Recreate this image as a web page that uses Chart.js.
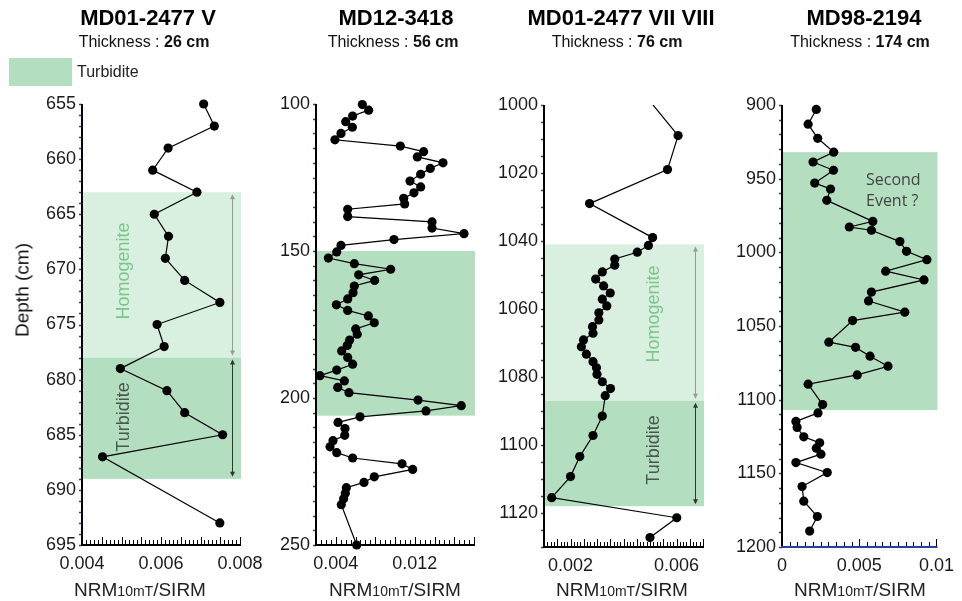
<!DOCTYPE html>
<html><head><meta charset="utf-8">
<script src="https://cdn.jsdelivr.net/npm/chart.js@4.4.0/dist/chart.umd.min.js"></script>
<style>
html,body{margin:0;padding:0;background:#fff;}
body{width:962px;height:601px;position:relative;overflow:hidden;font-family:"Liberation Sans",Arial,sans-serif;color:#111;}
canvas{position:absolute;left:0;top:0;}
.t{position:absolute;white-space:nowrap;transform:translate(-50%,-50%);line-height:1;}
.title{font-weight:bold;font-size:22px;color:#000;}
.thick{font-size:16px;color:#111;}
.xt{font-size:19px;color:#222;}
.xt span{font-size:14px;}
.rot{transform:translate(-50%,-50%) rotate(-90deg);}
.lab{font-size:18px;}
</style></head>
<body>
<canvas id="c1" width="962" height="601"></canvas>
<canvas id="c2" width="962" height="601"></canvas>
<canvas id="c3" width="962" height="601"></canvas>
<canvas id="c4" width="962" height="601"></canvas>

<div class="t title" style="left:148px;top:18px">MD01-2477 V</div>
<div class="t thick" style="left:144px;top:42px">Thickness : <b>26 cm</b></div>
<div class="t title" style="left:396px;top:18px">MD12-3418</div>
<div class="t thick" style="left:393px;top:42px">Thickness : <b>56 cm</b></div>
<div class="t title" style="left:621px;top:18px">MD01-2477 VII VIII</div>
<div class="t thick" style="left:617px;top:42px">Thickness : <b>76 cm</b></div>
<div class="t title" style="left:864px;top:18px">MD98-2194</div>
<div class="t thick" style="left:860px;top:42px">Thickness : <b>174 cm</b></div>

<div style="position:absolute;left:9px;top:58px;width:63px;height:28px;background:#b3dec0"></div>
<div class="t" style="left:77px;top:72px;transform:translate(0,-50%);font-size:16px;color:#222">Turbidite</div>

<div class="t rot" style="left:22px;top:290px;font-size:19px;color:#111">Depth (cm)</div>

<div class="t xt" style="left:140px;top:589px">NRM<span>10mT</span>/SIRM</div>
<div class="t xt" style="left:395px;top:589px">NRM<span>10mT</span>/SIRM</div>
<div class="t xt" style="left:622px;top:589px">NRM<span>10mT</span>/SIRM</div>
<div class="t xt" style="left:860px;top:589px">NRM<span>10mT</span>/SIRM</div>

<div class="t rot lab" style="left:123px;top:271px;color:#7cc68a">Homogenite</div>
<div class="t rot lab" style="left:123px;top:417px;color:#4a584c">Turbidite</div>
<div class="t rot lab" style="left:653px;top:314px;color:#7cc68a">Homogenite</div>
<div class="t rot lab" style="left:653px;top:450px;color:#4a584c">Turbidite</div>
<div class="t" style="left:866px;top:190px;transform:translate(0,-50%);font-family:'Open Sans','Noto Sans',sans-serif;font-size:16px;line-height:21px;color:#444">Second<br>Event ?</div>

<script>
// ---------- DATA ----------
// Panel 1 : MD01-2477 V
const p1Depth = [655,657,659,661,663,665,667,669,671,673,675,677,679,681,683,685,687,693];
const p1Value = [0.00708,0.00735,0.00618,0.00579,0.00691,0.00583,0.00619,0.00611,0.0066,0.00749,0.0059,0.00608,0.00497,0.00615,0.0066,0.00756,0.00452,0.00749];
const p1XTicks = [0.004,0.006,0.008];
const p1XLabels = ['0.004','0.006','0.008'];
const p1YTicks = [655,660,665,670,675,680,685,690,695];
const p1Homogenite = [663,678];
const p1Turbidite = [678,689];

// Panel 2 : MD12-3418
const p2Depth = [100.2,102.1,104.1,106,107.9,110,112.2,114.3,116.2,118,120,121.9,123.9,126.2,128.2,130.2,132.1,134,135.8,138.3,140.1,142.2,144.1,146.1,148.1,150.3,152.4,154.3,156.2,158.1,160,161.9,164.2,166.3,168.3,170.2,172.1,174.4,176.5,178.3,180.3,182.1,184,186.2,188.5,190.5,192.4,194.2,196.4,198.2,200.7,202.6,204.4,206.4,208.3,210.4,212.7,214.5,216.6,218.6,220.4,222.4,224.3,226.8,228.7,230.5,232.4,234.3,236.3,250];
const p2Value = [0.00669,0.00733,0.00571,0.00501,0.00568,0.00453,0.00392,0.01054,0.0129,0.01226,0.01486,0.01357,0.0126,0.01152,0.0126,0.01192,0.01088,0.01098,0.00521,0.00521,0.01375,0.01375,0.01699,0.0099,0.00453,0.0041,0.00325,0.00588,0.00956,0.00632,0.00794,0.00588,0.00575,0.00521,0.00406,0.00521,0.0073,0.0079,0.00602,0.00618,0.00541,0.00517,0.0046,0.00521,0.00571,0.0041,0.0024,0.00487,0.0042,0.00534,0.01233,0.01671,0.01314,0.00646,0.00423,0.00494,0.00491,0.00372,0.00342,0.0041,0.00571,0.01071,0.01179,0.0079,0.00686,0.00507,0.00497,0.0048,0.00456,0.00612];
const p2XTicks = [0.004,0.012];
const p2XLabels = ['0.004','0.012'];
const p2YTicks = [100,150,200,250];
const p2Turbidite = [150,206];

// Panel 3 : MD01-2477 VII VIII
const p3Depth = [997,1009,1019,1029,1039,1041.3,1043.3,1045.3,1047.1,1049.1,1051.2,1053.2,1055.3,1057.1,1059.1,1061.1,1063.2,1065.2,1067.1,1069.1,1071.1,1073.3,1075.5,1077.3,1079.2,1081.4,1083.4,1085.5,1091.5,1097.2,1103.4,1109.3,1115.5,1121.4,1127.2];
const p3Value = [0.0048,0.00606,0.00566,0.00272,0.0051,0.00494,0.00452,0.00367,0.00367,0.0032,0.00295,0.00325,0.0035,0.0032,0.00337,0.00307,0.00307,0.00283,0.00285,0.00249,0.00241,0.0026,0.00285,0.00298,0.003,0.0032,0.00351,0.00331,0.0032,0.00285,0.00235,0.002,0.00129,0.00601,0.005];
const p3XTicks = [0.002,0.006];
const p3XLabels = ['0.002','0.006'];
const p3YTicks = [1000,1020,1040,1060,1080,1100,1120];
const p3Homogenite = [1041,1087];
const p3Turbidite = [1087,1118];

// Panel 4 : MD98-2194
const p4Depth = [903,913,922.6,932,938.7,944.3,953,957,964.7,979,982.8,985,992.7,999.3,1005,1012.8,1018.7,1027,1033,1040.6,1046.3,1061,1064.5,1070.5,1077.3,1083.2,1089.5,1103.3,1109,1114.8,1118.9,1125.2,1129.3,1132.9,1137,1142.7,1149.5,1159,1168.9,1179.3,1189.2];
const p4Value = [0.00222,0.00169,0.00231,0.00335,0.00201,0.00333,0.00212,0.00314,0.0029,0.00588,0.00436,0.00579,0.00763,0.00806,0.00938,0.00671,0.00919,0.00579,0.0056,0.00795,0.00457,0.00303,0.00476,0.0057,0.00686,0.00487,0.00169,0.00263,0.00233,0.0009,0.00098,0.00141,0.00244,0.00222,0.00252,0.0009,0.00293,0.0013,0.00141,0.00229,0.00179];
const p4XTicks = [0,0.005,0.01];
const p4XLabels = ['0','0.005','0.01'];
const p4YTicks = [900,950,1000,1050,1100,1150,1200];
const p4Turbidite = [932,1107];

// ---------- STYLE ----------
const TURB = '#b3dec0', HOMO = '#d9efe0';
const FONT = '"Liberation Sans", Arial, sans-serif';

const panelPlugin = {
  id: 'panel',
  beforeDatasetsDraw(chart) {
    const p = chart.options.plugins.panel, ctx = chart.ctx, a = chart.chartArea, y = chart.scales.y;
    ctx.save();
    p.bands.forEach(b => {
      const y1 = y.getPixelForValue(b.range[0]), y2 = y.getPixelForValue(b.range[1]);
      ctx.fillStyle = b.color;
      ctx.fillRect(a.left, y1, a.right - a.left + 1, y2 - y1);
    });
    (p.arrows || []).forEach(ar => {
      const x = a.right - 8;
      const y1 = y.getPixelForValue(ar.range[0]) + 2, y2 = y.getPixelForValue(ar.range[1]) - 2;
      ctx.strokeStyle = ar.color; ctx.fillStyle = ar.color; ctx.lineWidth = 1;
      ctx.beginPath(); ctx.moveTo(x + 0.5, y1 + 2); ctx.lineTo(x + 0.5, y2 - 2); ctx.stroke();
      ctx.beginPath(); ctx.moveTo(x + 0.5, y1); ctx.lineTo(x - 2, y1 + 5); ctx.lineTo(x + 3, y1 + 5); ctx.closePath(); ctx.fill();
      ctx.beginPath(); ctx.moveTo(x + 0.5, y2); ctx.lineTo(x - 2, y2 - 5); ctx.lineTo(x + 3, y2 - 5); ctx.closePath(); ctx.fill();
    });
    ctx.restore();
  },
  afterDraw(chart) {
    const p = chart.options.plugins.panel, ctx = chart.ctx, a = chart.chartArea;
    const xs = chart.scales.x, ys = chart.scales.y;
    ctx.save();
    // y minor ticks (blue)
    ctx.strokeStyle = '#2b3f9e'; ctx.lineWidth = 1.5;
    const ny = Math.round((ys.max - ys.min) / p.yMinor);
    for (let i = 0; i <= ny; i++) {
      const py = Math.round(ys.getPixelForValue(ys.min + i * p.yMinor)) + 0.5;
      ctx.beginPath(); ctx.moveTo(a.left - 3, py); ctx.lineTo(a.left, py); ctx.stroke();
    }
    // x ticks (upward)
    ctx.strokeStyle = '#000'; ctx.lineWidth = 1;
    const nx = Math.round((xs.max - xs.min) / p.xMinor);
    for (let i = 0; i <= nx; i++) {
      const v = xs.min + i * p.xMinor;
      const r = v / p.xMajor, major = Math.abs(r - Math.round(r)) < 1e-6;
      const px = Math.round(xs.getPixelForValue(v)) + 0.5;
      ctx.beginPath(); ctx.moveTo(px, a.bottom); ctx.lineTo(px, a.bottom - (major ? 8 : 5)); ctx.stroke();
    }
    // axis lines
    ctx.strokeStyle = '#000'; ctx.lineWidth = 2;
    ctx.beginPath(); ctx.moveTo(a.left, a.top); ctx.lineTo(a.left, a.bottom + 1); ctx.stroke();
    ctx.strokeStyle = p.xAxisColor; ctx.lineWidth = 2;
    ctx.beginPath(); ctx.moveTo(a.left - 1, a.bottom); ctx.lineTo(a.right + 1, a.bottom); ctx.stroke();
    ctx.restore();
  }
};

function makePanel(id, o) {
  const area = o.area;
  const data = o.depth.map((d, i) => ({ x: o.value[i], y: d }));
  new Chart(document.getElementById(id), {
    type: 'scatter',
    data: { datasets: [{
      data, showLine: true, borderColor: '#000', borderWidth: 1.2,
      pointRadius: 4.6, pointHoverRadius: 4.6, pointBackgroundColor: '#000', pointBorderColor: '#000', pointBorderWidth: 0,
      clip: o.clip
    }]},
    options: {
      responsive: false, animation: false, devicePixelRatio: 1,
      layout: { padding: { left: area.l - 60, right: 962 - area.r, top: area.t, bottom: 601 - area.b - 40 } },
      plugins: {
        legend: { display: false }, tooltip: { enabled: false },
        panel: { bands: o.bands, arrows: o.arrows, yMinor: o.yMinor, xMinor: o.xMinor, xMajor: o.xMajor, xAxisColor: o.xAxisColor }
      },
      scales: {
        x: {
          type: 'linear', min: o.xMin, max: o.xMax,
          grid: { display: false, drawTicks: false }, border: { display: false },
          ticks: { font: { size: 18, family: FONT }, color: '#1a1a1a', padding: 8, maxRotation: 0, autoSkip: false,
                   callback: (v, i) => o.xLabels[i] },
          afterBuildTicks: s => { s.ticks = o.xTicks.map(v => ({ value: v })); },
          afterFit: s => { s.height = 40; }
        },
        y: {
          type: 'linear', reverse: true, min: o.yMin, max: o.yMax,
          grid: { display: false, drawTicks: false }, border: { display: false },
          ticks: { font: { size: 18, family: FONT }, color: '#1a1a1a', padding: 6, autoSkip: false,
                   callback: (v) => String(v) },
          afterBuildTicks: s => { s.ticks = o.yTicks.map(v => ({ value: v })); },
          afterFit: s => { s.width = 60; }
        }
      }
    },
    plugins: [panelPlugin]
  });
}

makePanel('c1', {
  depth: p1Depth, value: p1Value, xMin: 0.004, xMax: 0.008, yMin: 655, yMax: 695,
  xTicks: p1XTicks, xLabels: p1XLabels, yTicks: p1YTicks,
  area: { l: 82, r: 240, t: 104, b: 545 }, xMinor: 0.0001, xMajor: 0.0005, yMinor: 1,
  bands: [{ range: p1Homogenite, color: HOMO }, { range: p1Turbidite, color: TURB }],
  arrows: [{ range: p1Homogenite, color: '#9a9a9a' }, { range: p1Turbidite, color: '#333' }],
  xAxisColor: '#000', clip: false
});
makePanel('c2', {
  depth: p2Depth, value: p2Value, xMin: 0.002, xMax: 0.018, yMin: 100, yMax: 250,
  xTicks: p2XTicks, xLabels: p2XLabels, yTicks: p2YTicks,
  area: { l: 316, r: 474, t: 104, b: 545 }, xMinor: 0.0005, xMajor: 0.002, yMinor: 5,
  bands: [{ range: p2Turbidite, color: TURB }], arrows: [],
  xAxisColor: '#000', clip: false
});
makePanel('c3', {
  depth: p3Depth, value: p3Value, xMin: 0.001, xMax: 0.007, yMin: 1000, yMax: 1130,
  xTicks: p3XTicks, xLabels: p3XLabels, yTicks: p3YTicks,
  area: { l: 544, r: 703, t: 105, b: 547 }, xMinor: 0.000125, xMajor: 0.0005, yMinor: 5,
  bands: [{ range: p3Homogenite, color: HOMO }, { range: p3Turbidite, color: TURB }],
  arrows: [{ range: p3Homogenite, color: '#9a9a9a' }, { range: p3Turbidite, color: '#333' }],
  xAxisColor: '#000', clip: { left: 10, top: 0, right: 10, bottom: 10 }
});
makePanel('c4', {
  depth: p4Depth, value: p4Value, xMin: 0, xMax: 0.01, yMin: 900, yMax: 1200,
  xTicks: p4XTicks, xLabels: p4XLabels, yTicks: p4YTicks,
  area: { l: 782, r: 940, t: 105, b: 547 }, xMinor: 0.0005, xMajor: 0.005, yMinor: 10,
  bands: [{ range: p4Turbidite, color: TURB }], arrows: [],
  xAxisColor: '#2b3f9e', clip: false
});
</script>
</body></html>
